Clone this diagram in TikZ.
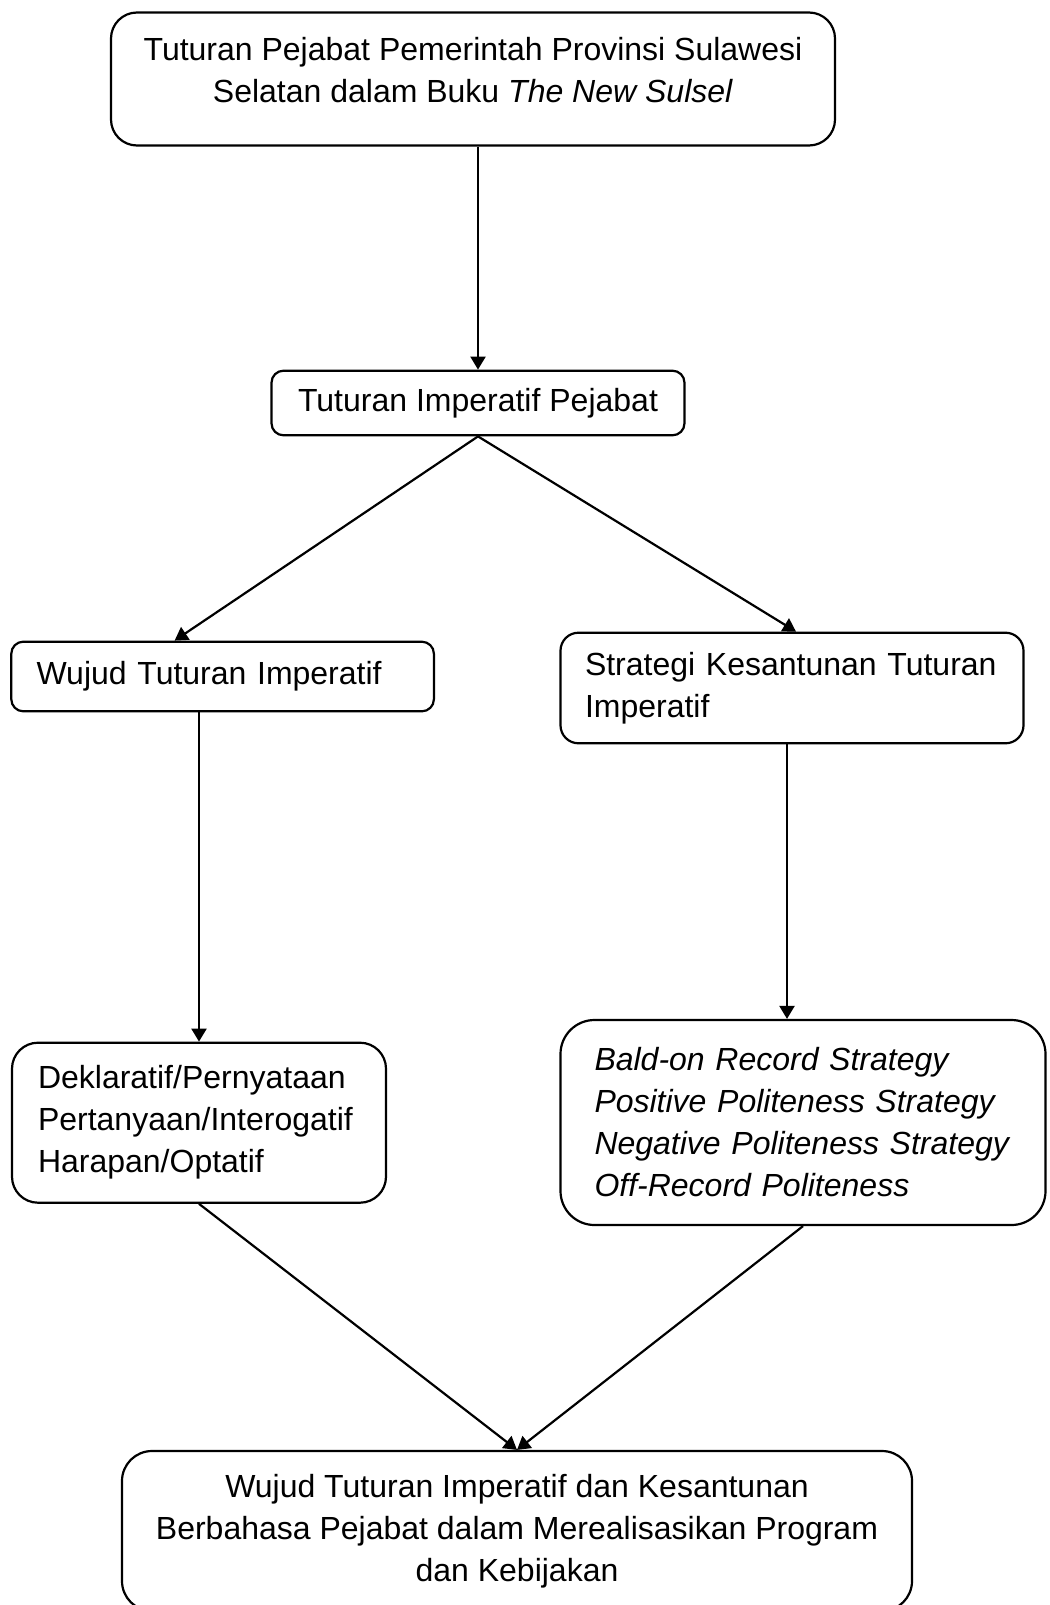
\documentclass[tikz,border=0pt]{standalone}
\usepackage{fontspec}
\setmainfont{Liberation Sans}
\usepackage{tikz}
\usetikzlibrary{arrows.meta}

\begin{document}
\begin{tikzpicture}[x=0.5pt, y=-0.5pt,
        box/.style={draw, line width=1.1pt, inner ysep=2pt, font=\fontsize{16}{21}\selectfont},
        arr/.style={line width=1.1pt, -{Triangle[length=6.5pt,width=7.5pt]}}]
        \useasboundingbox (0,0) rectangle (1049,1605);
        \node[box, rounded corners=13pt, minimum width=362pt, minimum height=66.5pt, align=center, text depth=9.5pt] (sumber) at (473,79)
            {Tuturan Pejabat Pemerintah Provinsi Sulawesi\\Selatan dalam Buku \textit{The New Sulsel}};
        \node[box, rounded corners=6pt, minimum width=206.5pt, minimum height=32.3pt, align=center] (imp) at (478,403)
            {Tuturan Imperatif Pejabat};
        \node[box, rounded corners=6pt, minimum width=211.3pt, minimum height=34.8pt, inner xsep=12.6pt, text width=186pt, align=left] (wujud) at (222.6,676.5)
            {Wujud Tuturan Imperatif};
        \node[box, rounded corners=9pt, minimum width=231.5pt, minimum height=55.3pt, inner xsep=12pt, text width=207pt, align=left] (strategi) at (792,688)
            {Strategi Kesantunan Tuturan\\Imperatif};
        \node[box, rounded corners=13pt, minimum width=187pt, minimum height=80pt, inner xsep=13pt, text width=161pt, align=left] (dekl) at (199,1122.7)
            {Deklaratif/Pernyataan\\Pertanyaan/Interogatif\\Harapan/Optatif};
        \node[box, rounded corners=17pt, minimum width=242.5pt, minimum height=102.5pt, inner xsep=17pt, text width=208.5pt, align=left] (bald) at (803,1122.5)
            {\itshape Bald-on Record Strategy\\Positive Politeness Strategy\\Negative Politeness Strategy\\Off-Record Politeness};
        \node[box, rounded corners=15pt, minimum width=395pt, minimum height=80pt, align=center] (akhir) at (517,1531)
            {Wujud Tuturan Imperatif dan Kesantunan\\Berbahasa Pejabat dalam Merealisasikan Program\\dan Kebijakan};
        \draw[arr] (imp.north |- sumber.south) -- (imp.north);
        \draw[arr] (imp.south) -- ([xshift=-24pt]wujud.north);
        \draw[arr] (imp.south) -- ([xshift=2pt]strategi.north);
        \draw[arr] (dekl.north |- wujud.south) -- (dekl.north);
        \draw[arr] ([xshift=-2.5pt]strategi.south) -- ([xshift=-2.5pt]strategi.south |- bald.north);
        \draw[arr] (dekl.south) -- (akhir.north);
        \draw[arr] (bald.south) -- (akhir.north);
    \end{tikzpicture}
\end{document}
